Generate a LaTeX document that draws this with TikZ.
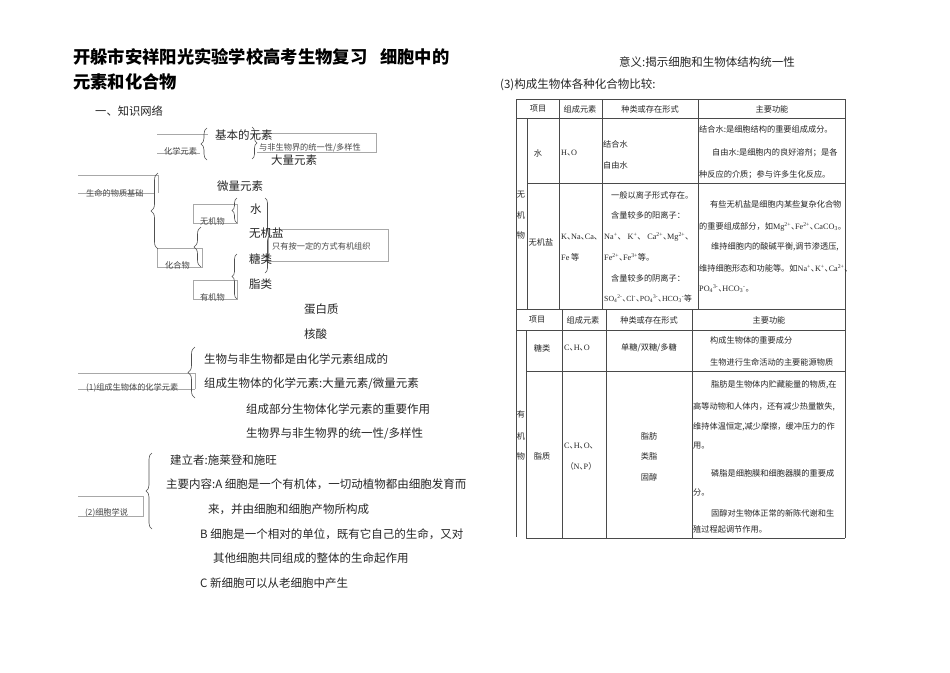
\documentclass[tikz,border=0pt]{standalone}
\usepackage{fontspec}
\setmainfont{Noto Sans CJK SC}
\newfontfamily\lat{Liberation Serif}
\usetikzlibrary{decorations.pathreplacing}
\newcommand\mysz[1]{\fontsize{#1}{#1}\selectfont}
\newcommand\Lt[1]{{\lat #1}}
\newcommand\ups[1]{\textsuperscript{\lat #1}}
\newcommand\dns[1]{\textsubscript{\lat #1}}
\newcommand\dun{\makebox[0.5em][l]{、}}
\definecolor{ink}{HTML}{262626}
\definecolor{boxgray}{HTML}{A8A8A8}
\definecolor{tlinec}{HTML}{4A4A4A}
\definecolor{bracec}{HTML}{505050}
\tikzset{
  t/.style={inner sep=0pt, anchor=west, text=ink, font=\mysz{11.5}},
  s/.style={inner sep=0pt, anchor=west, text=ink!85, font=\mysz{8.2}},
  tb/.style={inner sep=0pt, anchor=west, text=ink, font=\mysz{8.2}},
  tbc/.style={tb, anchor=center},
  gbox/.style={draw=boxgray, line width=0.6pt},
  tl/.style={draw=tlinec, line width=0.7pt},
  brc/.style={draw=bracec, line width=0.6pt, decorate, decoration={brace, amplitude=#1}}
}
\begin{document}
\begin{tikzpicture}[x=1pt,y=-1pt]
\fill[white] (0,0) rectangle (950,672);
\useasboundingbox (0,0) rectangle (950,672);

% ---------- title ----------
\node[t, font=\mysz{17.3}\bfseries, text=black] (title1) at (73,57) {开躲市安祥阳光实验学校高考生物复习\hspace{13pt}细胞中的};
\node[t, font=\mysz{17.3}\bfseries, text=black] (title2) at (73,82) {元素和化合物};
\node[t, font=\mysz{11.3}] (head1) at (95,111) {一、知识网络};

% ---------- knowledge network: boxes ----------
\draw[gbox] (157,134) -- (208,134);
\draw[gbox] (157,153) -- (200,153);
\draw[gbox] (257,133) -- (376,133) -- (376,152) -- (257,152);
\draw[gbox] (78,175) -- (158,175) -- (158,193);
\draw[gbox] (78,193) -- (155,193);
\draw[gbox] (193,204) rectangle (237,223);
\draw[gbox] (268,229) rectangle (388,261);
\draw[gbox] (157,248) rectangle (202,267);
\draw[gbox] (193,280) rectangle (237,299);
\draw[gbox] (78,373) -- (195,373) -- (195,389);
\draw[gbox] (78,389) -- (195,389);
\draw[gbox] (78,496) -- (143,496) -- (143,516) -- (78,516);

% ---------- braces ----------
\draw[brc=6pt] (207,160) -- (207,128);
\draw[brc=5pt] (252,127) -- (252,159);
\draw[brc=7pt] (158,249) -- (158,173);
\draw[brc=5pt] (237,223) -- (237,198);
\draw[brc=5pt] (265,198) -- (265,273);
\draw[brc=7pt] (201,267) -- (201,227);
\draw[brc=5pt] (237,299) -- (237,254);
\draw[brc=7pt] (195,398) -- (195,347);
\draw[brc=6pt] (152,529) -- (152,453);

% ---------- knowledge network: texts ----------
\node[s] (ce) at (164,151) {化学元素};
\node[t] (jb) at (215,135) {基本的元素};
\node[s] (yf) at (259,148) {与非生物界的统一性/多样性};
\node[t] (dl) at (271,160) {大量元素};
\node[s] (sm) at (86,193) {生命的物质基础};
\node[t] (wl) at (217,186) {微量元素};
\node[s] (wjw) at (200,221) {无机物};
\node[t] (shui) at (250,209) {水};
\node[t] (wjy) at (249,233) {无机盐};
\node[s] (zy) at (272,246) {只有按一定的方式有机组织};
\node[t] (thl) at (249,259) {糖类};
\node[s] (hhw) at (165,265) {化合物};
\node[s] (yjw) at (200,297) {有机物};
\node[t] (zl) at (249,284) {脂类};
\node[t] (dbz) at (304,309) {蛋白质};
\node[t] (hs) at (304,334) {核酸};

% ---------- section (1) ----------
\node[s] (sec1) at (86,388) {(1)组成生物体的化学元素};
\node[t] (a1) at (204,359) {生物与非生物都是由化学元素组成的};
\node[t] (a2) at (204,384) {组成生物体的化学元素:大量元素/微量元素};
\node[t] (a3) at (246,409) {组成部分生物体化学元素的重要作用};
\node[t] (a4) at (246,434) {生物界与非生物界的统一性/多样性};

% ---------- section (2) ----------
\node[s] (sec2) at (85,513) {(2)细胞学说};
\node[t] (b1) at (170,460) {建立者:施莱登和施旺};
\node[t] (b2) at (166,484) {主要内容:A 细胞是一个有机体，一切动植物都由细胞发育而};
\node[t] (b3) at (208,509) {来，并由细胞和细胞产物所构成};
\node[t] (b4) at (200,534) {B 细胞是一个相对的单位，既有它自己的生命，又对};
\node[t] (b5) at (213,558) {其他细胞共同组成的整体的生命起作用};
\node[t] (b6) at (200,583) {C 新细胞可以从老细胞中产生};

% ---------- right column ----------
\node[t] (yy) at (619,62) {意义:揭示细胞和生物体结构统一性};
\node[t] (s3h) at (500,85) {(3)构成生物体各种化合物比较:};

% ---------- table 1 lines ----------
\draw[tl] (516,99) rectangle (845,309);
\draw[tl] (516,118) -- (845,118);
\draw[tl] (527,183) -- (845,183);
\draw[tl] (527,118) -- (527,309);
\draw[tl] (559,99) -- (559,309);
\draw[tl] (602,99) -- (602,309);
\draw[tl] (698,99) -- (698,309);

% ---------- table 1 texts ----------
\node[tbc] (h1a) at (538,109) {项目};
\node[tbc] (h1b) at (580,109) {组成元素};
\node[tbc] (h1c) at (650,109) {种类或存在形式};
\node[tbc] (h1d) at (772,109) {主要功能};

\node[tbc] (w1) at (538,153) {水};
\node[tb] (w2) at (561,153) {\Lt{H}\dun\Lt{O}};
\node[tb] (w3) at (603,144) {结合水};
\node[tb] (w4) at (603,165) {自由水};
\node[tb] (w5) at (699,129) {结合水:是细胞结构的重要组成成分。};
\node[tb] (w6) at (712,153) {自由水:是细胞内的良好溶剂；是各};
\node[tb] (w7) at (699,175) {种反应的介质；参与许多生化反应。};

\node[tbc] (i1) at (521,195) {无};
\node[tbc] (i2) at (521,215) {机};
\node[tbc] (i3) at (521,235) {物};
\node[tbc] (i4) at (541,242) {无机盐};
\node[tb] (i5) at (561,237) {\Lt{K}\dun\Lt{Na}\dun\Lt{Ca}\dun};
\node[tb] (i6) at (561,257) {\Lt{Fe} 等};
\node[tb] (i7) at (611,195) {一般以离子形式存在。};
\node[tb] (i8) at (611,215) {含量较多的阳离子：};
\node[tb] (i9) at (604,237) {\Lt{Na}\ups{+}\dun\hspace{6pt}\Lt{K}\ups{+}\dun\hspace{6pt}\Lt{Ca}\ups{2+}\dun\Lt{Mg}\ups{2+}\dun};
\node[tb] (i10) at (604,257) {\Lt{Fe}\ups{2+}\dun\Lt{Fe}\ups{3+}等。};
\node[tb] (i11) at (611,278) {含量较多的阴离子：};
\node[tb, font=\mysz{7.8}] (i12) at (604,299) {\Lt{SO}\dns{4}\ups{2-}\dun\Lt{Cl}\ups{-}\dun\Lt{PO}\dns{4}\ups{3-}\dun\Lt{HCO}\dns{3}\ups{-}等};
\node[tb] (i13) at (710,204) {有些无机盐是细胞内某些复杂化合物};
\node[tb] (i14) at (699,227) {的重要组成部分，如\Lt{Mg}\ups{2+}\dun\Lt{Fe}\ups{2+}\dun\Lt{CaCO}\dns{3}。};
\node[tb] (i15) at (711,247) {维持细胞内的酸碱平衡,调节渗透压,};
\node[tb] (i16) at (699,268) {维持细胞形态和功能等。如\Lt{Na}\ups{+}\dun\Lt{K}\ups{+}\dun\Lt{Ca}\ups{2+}\dun};
\node[tb] (i17) at (699,289) {\Lt{PO}\dns{4}\ups{3-}\dun\Lt{HCO}\dns{3}\ups{-}。};

% ---------- table 2 lines ----------
\draw[tl] (516,309) -- (845,309);
\draw[tl] (516,330) -- (845,330);
\draw[tl] (526,371) -- (845,371);
\draw[tl] (516,309) -- (516,537);
\draw[tl] (526,330) -- (526,538);
\draw[tl] (526,538) -- (845,538);
\draw[tl] (845,309) -- (845,538);
\draw[tl] (562,309) -- (562,538);
\draw[tl] (606,309) -- (606,538);
\draw[tl] (692,309) -- (692,538);

% ---------- table 2 texts ----------
\node[tbc] (j1) at (537,320) {项目};
\node[tbc] (j2) at (583,320) {组成元素};
\node[tbc] (j3) at (649,320) {种类或存在形式};
\node[tbc] (j4) at (769,320) {主要功能};

\node[tbc] (s1) at (542,348) {糖类};
\node[tb] (s2) at (564,348) {\Lt{C}\dun\Lt{H}\dun\Lt{O}};
\node[tbc] (s3) at (649,348) {单糖/双糖/多糖};
\node[tb] (s4) at (710,340) {构成生物体的重要成分};
\node[tb] (s5) at (710,362) {生物进行生命活动的主要能源物质};

\node[tbc] (o1) at (521,414) {有};
\node[tbc] (o2) at (521,436) {机};
\node[tbc] (o3) at (521,456) {物};
\node[tbc] (l1) at (542,456) {脂质};
\node[tb] (l2) at (564,446) {\Lt{C}\dun\Lt{H}\dun\Lt{O}\dun};
\node[tbc] (l3) at (581,466) {（\Lt{N}\dun\Lt{P}）};
\node[tbc] (l4) at (649,436) {脂肪};
\node[tbc] (l5) at (649,456) {类脂};
\node[tbc] (l6) at (649,477) {固醇};
\node[tb] (l7) at (711,385) {脂肪是生物体内贮藏能量的物质,在};
\node[tb] (l8) at (693,407) {高等动物和人体内，还有减少热量散失,};
\node[tb] (l9) at (693,427) {维持体温恒定,减少摩擦，缓冲压力的作};
\node[tb] (l10) at (693,446) {用。};
\node[tb] (l11) at (711,473) {磷脂是细胞膜和细胞器膜的重要成};
\node[tb] (l12) at (693,492) {分。};
\node[tb] (l13) at (711,513) {固醇对生物体正常的新陈代谢和生};
\node[tb] (l14) at (693,529) {殖过程起调节作用。};
\end{tikzpicture}
\end{document}
